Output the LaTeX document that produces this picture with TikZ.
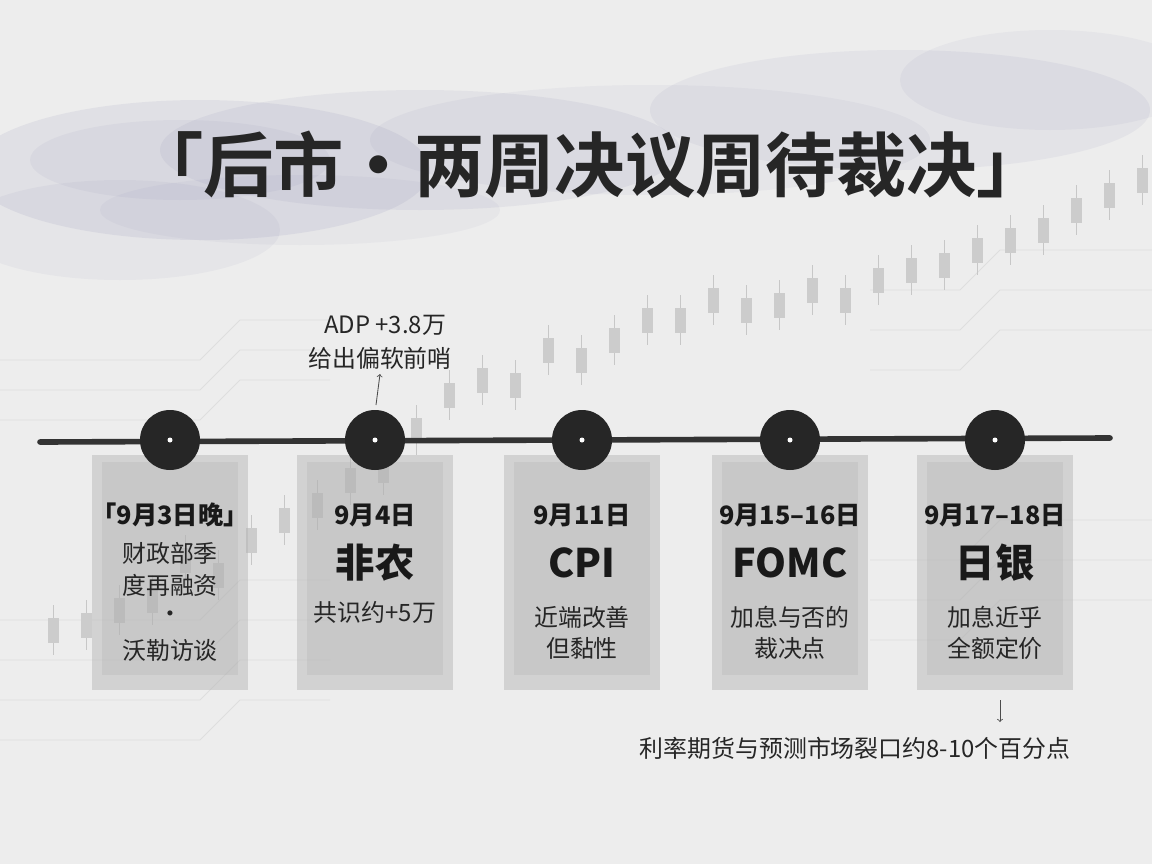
\documentclass[tikz,border=0pt]{standalone}
\usepackage{fontspec}
\newfontfamily\cjk{Noto Sans CJK SC}
\newfontfamily\cjkb{Noto Sans CJK SC}[BoldFont={Noto Sans CJK SC Bold}]
\begin{document}
\begin{tikzpicture}[x=0.25mm,y=-0.25mm,
  lbl/.style={font=\cjk\fontsize{17}{20}\selectfont,text=black!85},
  date/.style={font=\cjk\bfseries\fontsize{18}{20}\selectfont,text=black!90},
  big/.style={font=\cjk\bfseries\fontsize{28}{30}\selectfont,text=black!90},
  dot/.style={circle,fill=black!85,minimum size=15mm,inner sep=0pt},
  brush/.style={fill=black!30,opacity=0.45},
  candle/.style={fill=black!20,draw=black!20},
  wick/.style={draw=black!22,line width=0.5pt},
  circ/.style={draw=black!13,line width=0.6pt}]
\fill[white!93!black] (0,0) rectangle (1152,864);
\useasboundingbox (0,0) rectangle (1152,864);
% mist
\foreach \x/\y/\a/\b/\o in {200/170/230/70/0.09,420/150/260/60/0.08,650/140/280/55/0.06,900/110/250/60/0.07,1050/80/150/50/0.06,120/230/160/50/0.06,300/210/200/35/0.05,180/160/150/40/0.06}
  \fill[blue!20!gray,opacity=\o] (\x,\y) ellipse ({\a} and {\b});
% circuit lines
\foreach \y in {300,330,360,560,600,640,680}
  \draw[circ] (0,\y+60) -- (200,\y+60) -- (240,\y+20) -- (330,\y+20);
\foreach \y in {250,290,330,520,560,600}
  \draw[circ] (1152,\y) -- (1000,\y) -- (960,\y+40) -- (870,\y+40);
% candles
\foreach[count=\i] \v in {630,625,610,600,560,575,540,520,505,480,470,430,395,380,385,350,360,340,320,320,300,310,305,290,300,280,270,265,250,240,230,210,195,180}{
  \pgfmathsetmacro\xx{20+\i*33}
  \draw[wick] (\xx,\v-25) -- (\xx,\v+25);
  \fill[candle] (\xx-5,\v-12) rectangle (\xx+5,\v+12);}
% brushes
\foreach \x in {170,375,582,790,995}{
  \fill[brush] (\x-78,455) rectangle (\x+78,690);
  \fill[black!30,opacity=0.3] (\x-68,462) rectangle (\x+68,675);}
% timeline
\draw[line width=4pt,black!80,line cap=round] (40,442) -- (1110,438);
\foreach \x/\n in {170/a,375/b,582/c,790/d,995/e}{
  \node[dot] (\n) at (\x,440) {};
  \fill[white] (\x,440) circle (2.5);}
% title
\node[font=\cjkb\bfseries\fontsize{50}{55}\selectfont,text=black!85] (title) at (590,165) {「后市·两周决议周待裁决」};
% column 1
\node[date] (a1) at (170,515) {「9月3日晚」};
\node[lbl] (a2) at (170,553) {财政部季};
\node[lbl] (a3) at (170,585) {度再融资};
\node[lbl] (a4) at (170,617) {•};
\node[lbl] (a5) at (170,650) {沃勒访谈};
% column 2
\node[date] (b1) at (375,515) {9月4日};
\node[big] (b2) at (375,563) {非农};
\node[lbl] (b3) at (375,612) {共识约+5万};
% column 3
\node[date] (c1) at (582,515) {9月11日};
\node[big] (c2) at (582,563) {CPI};
\node[lbl] (c3) at (582,617) {近端改善};
\node[lbl] (c4) at (582,648) {但黏性};
% column 4
\node[date] (d1) at (790,515) {9月15–16日};
\node[big] (d2) at (790,563) {FOMC};
\node[lbl] (d3) at (790,617) {加息与否的};
\node[lbl] (d4) at (790,648) {裁决点};
% column 5
\node[date] (e1) at (995,515) {9月17–18日};
\node[big] (e2) at (995,563) {日银};
\node[lbl] (e3) at (995,617) {加息近乎};
\node[lbl] (e4) at (995,648) {全额定价};
% ADP annotation
\node[lbl] (adp) at (385,325) {ADP +3.8万};
\node[lbl] (adp2) at (380,358) {给出偏软前哨};
\coordinate (adpS) at (376,405);
\draw[->,black!70,line width=0.6pt] (adpS) -- (adp2.south);
% bottom annotation
\node[lbl] (gap) at (855,748) {利率期货与预测市场裂口约8-10个百分点};
\coordinate (gapS) at (1000,700);
\draw[->,black!70,line width=0.6pt] (gapS) -- (1000,722);
\end{tikzpicture}
\end{document}
